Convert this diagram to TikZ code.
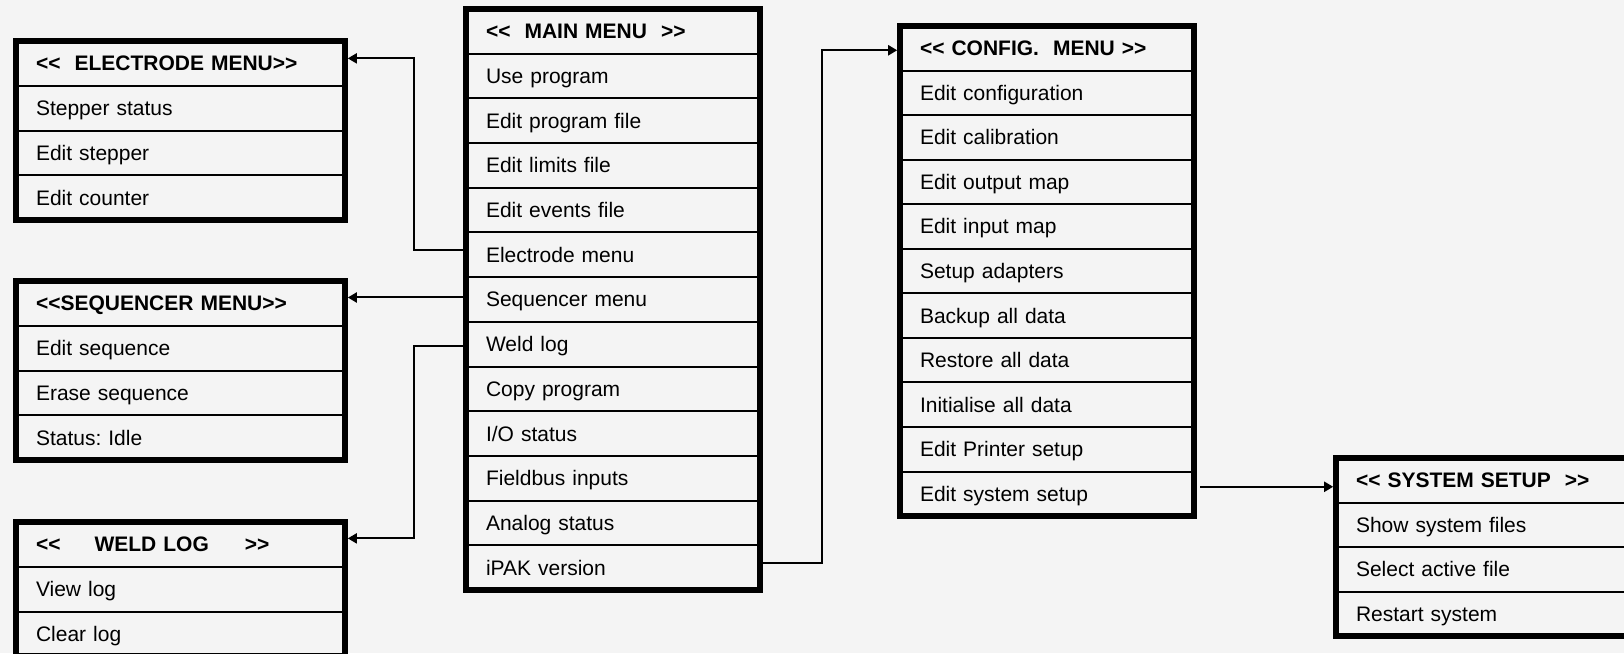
\documentclass[tikz,border=0pt]{standalone}
\usepackage{fontspec}
\setmainfont{Liberation Sans}
\usetikzlibrary{arrows.meta}
\frenchspacing
% double angle marks kept as two separate characters
\newcommand\openmark{<\kern0pt<}
\newcommand\closemark{>\kern0pt>}
\definecolor{paper}{HTML}{F4F4F4}
\tikzset{
  menurow/.style={draw=black, line width=2pt, rectangle, outer sep=0pt,
    inner xsep=20pt, inner ysep=0pt, text width=#1-40pt, align=left,
    text height=15pt, text depth=0pt,
    font=\fontsize{21pt}{25pt}\selectfont},
  frame/.style={draw=black, line width=5.6pt},
  link/.style={draw=black, line width=2pt},
  % tips stop at the outer edge of the thick frame
  linkarrow/.style={link, -{Triangle[length=9pt,width=10pt]}, shorten >=2.8pt},
}
% #1 name prefix, #2 x of left edge, #3 y of top edge, #4 row pitch, #5 width, #6 rows
\newcommand\menucolumn[6]{%
  \foreach \t [count=\i] in {#6} {%
    \node[menurow=#5, minimum height=#4pt, anchor=north west] (#1\i)
      at (#2, {#3+(\i-1)*#4}) {\t};
  }%
}
\begin{document}
\begin{tikzpicture}[x=1pt, y=-1pt]
\fill[paper] (0,0) rectangle (1624,653);
\useasboundingbox (0,0) rectangle (1624,653);
\clip (0,0) rectangle (1624,653);

% main menu
\menucolumn{m}{466}{9}{44.69}{294pt}{%
  {\bfseries\openmark~~MAIN MENU~~\closemark},
  Use program, Edit program file, Edit limits file, Edit events file,
  Electrode menu, Sequencer menu, Weld log, Copy program, I/O status,
  Fieldbus inputs, Analog status, iPAK version}
\draw[frame] (m1.north west) rectangle (m13.south east);

% electrode menu
\menucolumn{e}{16}{41}{44.75}{329pt}{%
  {\bfseries\openmark~~ELECTRODE MENU\closemark},
  Stepper status, Edit stepper, Edit counter}
\draw[frame] (e1.north west) rectangle (e4.south east);

% sequencer menu
\menucolumn{s}{16}{281}{44.75}{329pt}{%
  {\bfseries\openmark SEQUENCER MENU\closemark},
  Edit sequence, Erase sequence, Status: Idle}
\draw[frame] (s1.north west) rectangle (s4.south east);

% weld log
\menucolumn{w}{16}{522}{44.75}{329pt}{%
  {\bfseries\openmark\hspace{34pt}WELD LOG\hspace{36pt}\closemark},
  View log, Clear log}
\draw[frame] (w1.north west) rectangle (w3.south east);

% configuration menu
\menucolumn{c}{900}{26}{44.55}{294pt}{%
  {\bfseries\openmark~CONFIG.~~MENU~\closemark},
  Edit configuration, Edit calibration, Edit output map, Edit input map,
  Setup adapters, Backup all data, Restore all data, Initialise all data,
  Edit Printer setup, Edit system setup}
\draw[frame] (c1.north west) rectangle (c11.south east);

% system setup
\menucolumn{y}{1336}{458}{44.5}{294pt}{%
  {\bfseries\openmark~SYSTEM SETUP~~\closemark},
  Show system files, Select active file, Restart system}
\draw[frame] (y1.north west) rectangle (y4.south east);

% connectors
\draw[linkarrow] ([yshift=5pt]m6.west) -- ++(-52,0) |- ([yshift=5pt]e1.east);
\coordinate (seqstart) at ([yshift=2pt]m7.west);
\draw[linkarrow] (seqstart) -- (seqstart -| s1.east);
\draw[linkarrow] ([yshift=-1.5pt]m8.west) -- ++(-52,0) |- ([yshift=6pt]w1.east);
\draw[linkarrow] ([yshift=5pt]m13.east) -- ++(62,0) |- ([yshift=-2pt]c1.west);
\coordinate (sysstart) at ([xshift=6pt,yshift=7pt]c11.east);
\draw[linkarrow] (sysstart) -- (sysstart -| y1.west);
\end{tikzpicture}
\end{document}
